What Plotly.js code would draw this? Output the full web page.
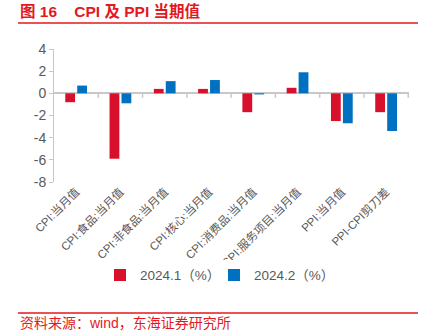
<!DOCTYPE html>
<html><head><meta charset="utf-8">
<script src="https://cdn.plot.ly/plotly-3.0.1.min.js"></script>
<style>body{margin:0;background:#fff}#c{width:440px;height:334px}</style>
</head><body><div id="c"></div>
<script>
const categories = ["CPI:当月值","CPI:食品:当月值","CPI:非食品:当月值","CPI:核心:当月值","CPI:消费品:当月值","CPI:服务项目:当月值","PPI:当月值","PPI-CPI剪刀差"];
const jan = [-0.8,-5.9,0.4,0.4,-1.7,0.5,-2.5,-1.7];
const feb = [0.7,-0.9,1.1,1.2,-0.1,1.9,-2.7,-3.4];
const seriesNames = ["2024.1（%）","2024.2（%）"];
const yTicks = [4,2,0,-2,-4,-6,-8];

const FONT = "Liberation Sans, Arial, Noto Sans CJK SC, sans-serif";
const RED = "#D9102B", BLUE = "#0070C0", TRED = "#E3191F", GRAY = "#595959", LINE = "#C8C8C8";

const traces = [
  {type:"bar", name:seriesNames[0], x:categories, y:jan, marker:{color:RED}},
  {type:"bar", name:seriesNames[1], x:categories, y:feb, marker:{color:BLUE}}
];

// category-boundary tick marks on the zero line
const boundaryTicks = categories.map((c, i) => ({
  type:"line", xref:"x", yref:"y", x0:i+0.5, x1:i+0.5, y0:0, y1:-0.4,
  line:{color:LINE, width:1.5}, layer:"below"
}));

const layout = {
  width:440, height:334,
  margin:{l:54, r:31, t:49, b:152},
  paper_bgcolor:"#fff", plot_bgcolor:"#fff",
  font:{family:FONT, color:GRAY, size:12},
  barmode:"group", bargap:0.46, bargroupgap:0.18,
  showlegend:true,
  legend:{orientation:"h", x:0.1296, xanchor:"left", y:-0.70, yanchor:"middle",
          font:{size:13.5, color:GRAY}, itemwidth:30, entrywidth:69, entrywidthmode:"pixels", tracegroupgap:0},
  xaxis:{type:"category", showline:false, ticks:"", showgrid:false, zeroline:false,
         tickangle:-45, tickfont:{size:11.5, color:GRAY}},
  yaxis:{range:[-8,4], tickvals:yTicks, ticktext:yTicks.map(String), showline:true, linecolor:LINE,
         linewidth:1, ticks:"outside", ticklen:4, tickcolor:LINE, showgrid:false,
         zeroline:true, zerolinecolor:LINE, zerolinewidth:2,
         tickfont:{size:14, color:GRAY}},
  shapes:[
    {type:"line", xref:"paper", yref:"paper", x0:-0.1014, x1:1.0254, y0:1.195, y1:1.195, line:{color:TRED, width:1.5}},
    {type:"line", xref:"paper", yref:"paper", x0:-0.1014, x1:1.0254, y0:-0.985, y1:-0.985, line:{color:TRED, width:1.5}}
  ].concat(boundaryTicks),
  annotations:[
    {xref:"paper", yref:"paper", x:-0.1014, y:1.284, xanchor:"left", yanchor:"middle", showarrow:false,
     text:"<b>图 16    CPI 及 PPI 当期值</b>", font:{size:15.5, color:TRED, family:FONT}},
    {xref:"paper", yref:"paper", x:-0.1014, y:-1.063, xanchor:"left", yanchor:"middle", showarrow:false,
     text:"资料来源：wind，东海证券研究所", font:{size:14, color:TRED, family:FONT}}
  ]
};
Plotly.newPlot("c", traces, layout, {staticPlot:true, displayModeBar:false});
</script></body></html>
